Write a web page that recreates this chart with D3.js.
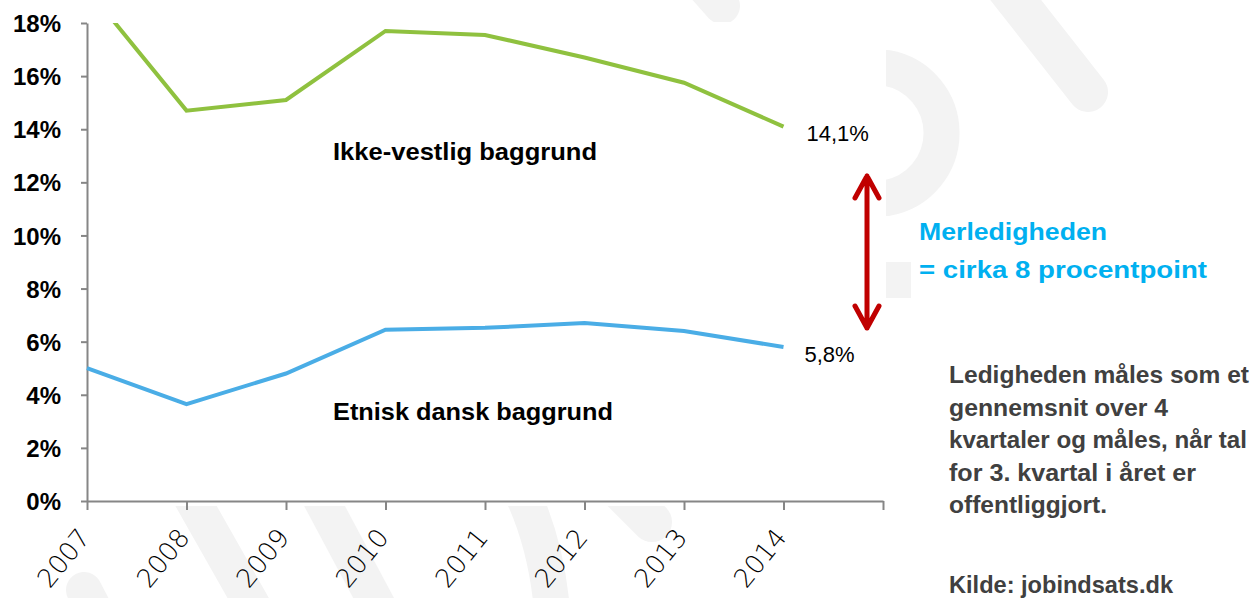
<!DOCTYPE html>
<html>
<head>
<meta charset="utf-8">
<script src="https://d3js.org/d3.v7.min.js"></script>
<style>
  body { margin: 0; background: #fff; }
  svg text { font-family: "Liberation Sans", Arial, sans-serif; }
</style>
</head>
<body>
<div id="chart"></div>
<script>
  // data
  var years = [2007, 2008, 2009, 2010, 2011, 2012, 2013, 2014];
  var ikkeVestlig = [19.3, 14.7, 15.1, 17.7, 17.55, 16.7, 15.75, 14.1];
  var etniskDansk = [5.0, 3.65, 4.8, 6.45, 6.52, 6.7, 6.4, 5.8];
  var yTicks = [0, 2, 4, 6, 8, 10, 12, 14, 16, 18];
  var noteLines = ["Ledigheden måles som et", "gennemsnit over 4", "kvartaler og måles, når tal",
                   "for 3. kvartal i året er", "offentliggjort."];

  var W = 1259, H = 598;
  var svg = d3.select("#chart").append("svg").attr("width", W).attr("height", H);

  // faint watermark behind the plot
  var wm = svg.append("g").attr("fill", "none").attr("stroke", "#f3f3f3")
      .attr("stroke-width", 36).attr("stroke-linecap", "round");
  wm.append("path").attr("d", "M690,-30 L722,6");
  wm.append("path").attr("d", "M1000,-20 L1088,92").attr("stroke-width", 40);
  wm.append("path").attr("d", "M887,68 A66,66 0 0 1 887,198");
  wm.append("path").attr("d", "M898,262 L898,298").attr("stroke-width", 26).attr("stroke-linecap", "butt");
  wm.append("path").attr("d", "M170,460 L255,610");
  wm.append("path").attr("d", "M300,460 L380,610");
  wm.append("path").attr("d", "M510,470 Q545,530 552,610");
  wm.append("path").attr("d", "M600,470 L652,522").attr("stroke-width", 40);
  wm.append("path").attr("d", "M84,590 L110,640");
  svg.append("rect").attr("x", 0).attr("y", 22).attr("width", 886).attr("height", 484).attr("fill", "#fff");

  var x = d3.scaleLinear().domain([2007, 2015]).range([87, 883]);
  var y = d3.scaleLinear().domain([0, 18]).range([501, 23]);

  // axes
  var yAxis = svg.append("g").attr("transform", "translate(87,0)")
      .call(d3.axisLeft(y).tickValues(yTicks).tickSize(6).tickSizeOuter(0)
            .tickFormat(function(d) { return d + "%"; }));
  yAxis.select(".domain").attr("stroke", "#868686").attr("stroke-width", 2);
  yAxis.selectAll(".tick line").attr("stroke", "#868686").attr("stroke-width", 2);
  yAxis.selectAll(".tick text").attr("x", -26).attr("dy", "0.36em")
      .style("font-size", "24px").style("font-weight", "bold").attr("fill", "#000")
      .style("font-family", "'Liberation Sans', Arial, sans-serif");

  var xAxis = svg.append("g").attr("transform", "translate(0,501)")
      .call(d3.axisBottom(x).tickValues(years.concat([2015])).tickSize(9).tickSizeOuter(0)
            .tickFormat(function(d) { return d < 2015 ? d : ""; }));
  xAxis.select(".domain").attr("stroke", "#868686").attr("stroke-width", 2);
  xAxis.selectAll(".tick line").attr("stroke", "#868686").attr("stroke-width", 2);
  xAxis.selectAll(".tick text")
      .attr("text-anchor", "end").attr("x", 0).attr("y", 0).attr("dy", 0)
      .attr("transform", "translate(4,37) rotate(-51)")
      .style("font-size", "26px").style("font-weight", "200").attr("fill", "#000")
      .style("font-family", "'DejaVu Sans', sans-serif");

  // lines
  svg.append("clipPath").attr("id", "plotclip").append("rect")
      .attr("x", 87).attr("y", y(18)).attr("width", 800).attr("height", 480);

  var line = d3.line().x(function(d, i) { return x(years[i]); }).y(function(d) { return y(d); });

  svg.append("path").datum(ikkeVestlig).attr("d", line).attr("clip-path", "url(#plotclip)")
      .attr("fill", "none").attr("stroke", "#8fc13f").attr("stroke-width", 4);
  svg.append("path").datum(etniskDansk).attr("d", line)
      .attr("fill", "none").attr("stroke", "#4aade6").attr("stroke-width", 4);

  // end labels
  svg.append("text").attr("x", x(2014) + 23).attr("y", y(14.1) + 14)
      .text("14,1%").style("font-size", "22px").attr("fill", "#000");
  svg.append("text").attr("x", x(2014) + 21).attr("y", y(5.8) + 15)
      .text("5,8%").style("font-size", "22px").attr("fill", "#000");

  // series names
  svg.append("text").attr("x", 333).attr("y", 160).text("Ikke-vestlig baggrund")
      .style("font-size", "24px").style("font-weight", "bold").attr("fill", "#000")
      .attr("textLength", 264).attr("lengthAdjust", "spacingAndGlyphs");
  svg.append("text").attr("x", 333).attr("y", 420).text("Etnisk dansk baggrund")
      .style("font-size", "24px").style("font-weight", "bold").attr("fill", "#000")
      .attr("textLength", 280).attr("lengthAdjust", "spacingAndGlyphs");

  // double arrow
  var ax = 867, aTop = 176, aBot = 328;
  svg.append("path")
      .attr("d", "M" + ax + "," + aTop + " L" + ax + "," + aBot +
                 " M" + (ax - 12) + "," + (aTop + 22) + " L" + ax + "," + aTop + " L" + (ax + 12) + "," + (aTop + 22) +
                 " M" + (ax - 12) + "," + (aBot - 22) + " L" + ax + "," + aBot + " L" + (ax + 12) + "," + (aBot - 22))
      .attr("fill", "none").attr("stroke", "#c00000").attr("stroke-width", 5)
      .attr("stroke-linecap", "round").attr("stroke-linejoin", "round");

  svg.append("text").attr("x", 919).attr("y", 240).text("Merledigheden")
      .style("font-size", "24px").style("font-weight", "bold").attr("fill", "#00b0f0")
      .attr("textLength", 188).attr("lengthAdjust", "spacingAndGlyphs");
  svg.append("text").attr("x", 919).attr("y", 278).text("= cirka 8 procentpoint")
      .style("font-size", "24px").style("font-weight", "bold").attr("fill", "#00b0f0")
      .attr("textLength", 288).attr("lengthAdjust", "spacingAndGlyphs");

  // note text
  var noteW = [300, 219, 298, 247, 158];
  var noteFont = "'Liberation Sans', Arial, sans-serif";
  svg.selectAll(".note").data(noteLines).enter().append("text")
      .attr("class", "note")
      .attr("x", 949).attr("y", function(d, i) { return 383 + i * 32.5; })
      .attr("textLength", function(d, i) { return noteW[i]; }).attr("lengthAdjust", "spacingAndGlyphs")
      .text(function(d) { return d; })
      .style("font-family", noteFont)
      .style("font-size", "24px").style("font-weight", "bold").attr("fill", "#404040");
  svg.append("text").attr("x", 949).attr("y", 593).text("Kilde: jobindsats.dk")
      .style("font-family", noteFont)
      .style("font-size", "24px").style("font-weight", "bold").attr("fill", "#404040")
      .attr("textLength", 224).attr("lengthAdjust", "spacingAndGlyphs");
</script>
</body>
</html>
